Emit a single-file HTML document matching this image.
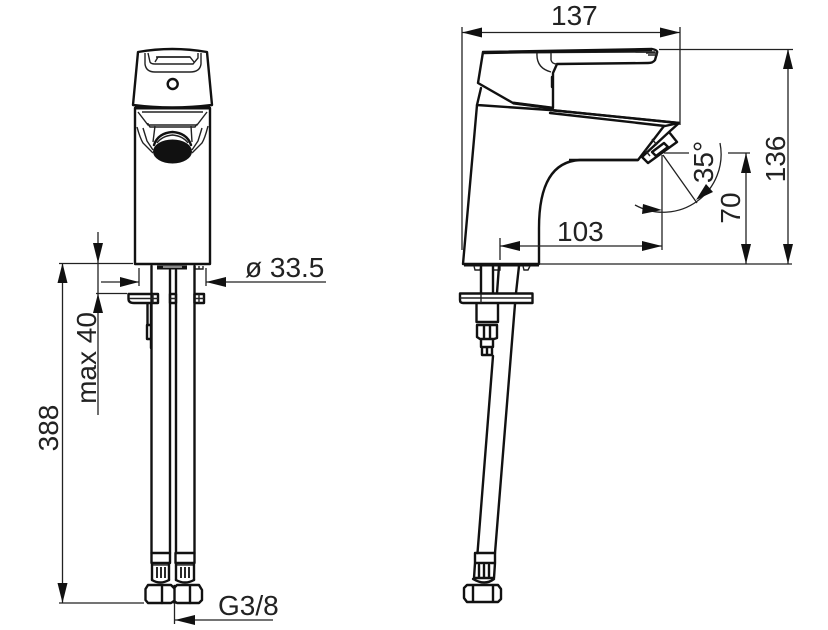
<!DOCTYPE html>
<html><head><meta charset="utf-8"><style>
html,body{margin:0;padding:0;background:#fff}
svg{display:block}
text{font-family:"Liberation Sans",Arial,sans-serif;font-size:28px;fill:#222}
.o{fill:none;stroke:#111;stroke-width:2.4;stroke-linejoin:round;stroke-linecap:round}
.t{fill:none;stroke:#222;stroke-width:1.4}
.d{fill:none;stroke:#222;stroke-width:1.3}
.a{fill:#111;stroke:none}
</style></head><body>
<svg width="828" height="630" viewBox="0 0 828 630" xmlns="http://www.w3.org/2000/svg">
<!-- LEFT VIEW -->
<path class="o" d="M138 52Q172 46 207 52L212 105Q172 110 133 105Z"/>
<path class="t" d="M145 53V64Q146 72 155 72H190Q200 72 201 64V53M148 53L150 62Q151 64 155 64H193L198 58V53M156 57H190"/>
<path class="t" d="M155 62L158 57H190L194 62"/>
<circle class="o" cx="172.700" cy="84" r="5"/>
<path d="M135 108H210" stroke="#111" stroke-width="3"/>
<path class="o" d="M135 108V264H210V108"/>
<path class="t" d="M138 112L148 125H197L207 112M148 125V123M142 112H203M148 124L150 127H195L197 124M137 127Q140 138 143 143L153 153M208 126Q205 138 202 143L192 153M155 126L153 142M191 126L192 142M143 128L147 141L153 150M202 128L198 141L192 150"/>
<path class="o" d="M154 145Q158 133 172.500 132Q187 133 191 145" />
<path class="t" d="M157 143Q162 136 172.500 135Q183 136 188 143"/>
<ellipse class="a" cx="172.500" cy="151.500" rx="19.500" ry="12"/>
<!-- left under-body -->
<path d="M157 267.500H187" stroke="#111" stroke-width="4"/>
<path d="M163 267H182" stroke="#fff" stroke-width="1"/>
<path class="t" d="M195 266V269H203V266M199 266V269"/>
<path class="o" d="M151.500 266V553M170 270V553M176 270V553M194.500 266V553"/>
<path class="o" d="M128.500 294H158V303H134Q128.500 303 128.500 299ZM170 294H176V303H170ZM194.500 294H204V303H194.500Z" fill="#fff"/>
<path class="t" d="M129 298.500H158M170 298.500H176M195 298.500H204M153 294V303M199 294V303"/>
<path class="o" d="M147.500 304V324M151 304V324M147 325H151V339H147ZM151 339V348"/>
<!-- left bottom connectors -->
<path class="o" d="M151.500 553H170V563H151.500ZM175.500 553H194.500V563H175.500Z"/>
<path class="o" d="M152 563V580M169 563V580M176 563V580M194 563V580"/>
<path class="o" d="M152 580Q160 585 169 580M176 580Q185 585 194 580"/>
<path d="M157 567V578M161 567V578M165 567V578M181 567V578M185 567V578M189 567V578" stroke="#111" stroke-width="1.800"/>
<path d="M153 565H168M177 565H193" stroke="#111" stroke-width="1.200"/>
<path class="o" d="M148 585H171L174 588L177 585H199L202 590V600L199 603H177L174 601L171 603H148L145.500 600V589Z"/>
<path class="o" d="M162 586V603M174.500 586V603M190 586V603"/>
<!-- left dims -->
<path class="d" d="M59 263.500H133M59 603H144M62.500 263V603"/>
<path class="a" d="M62.500 263L57.500 283H67.500ZM62.500 603L57.500 583H67.500Z"/>
<path class="d" d="M98 232V415M96 293.500H127M101 282H139M139 268V286M206 268V286M206 282H326"/>
<path class="a" d="M98 263L93 243H103ZM98 293.500L93 313H103ZM139 282L120 277V287ZM206 282L226 277V287Z"/>
<path class="d" d="M174.500 603V624M175 620H273"/>
<path class="a" d="M175 620L195 615V625Z"/>
<text x="245" y="277">ø 33.5</text>
<text x="218" y="615">G3/8</text>
<text transform="translate(58 428) rotate(-90)" text-anchor="middle">388</text>
<text transform="translate(96 358) rotate(-90)" text-anchor="middle">max 40</text>
<!-- RIGHT VIEW -->
<path class="o" d="M483 52L652 49Q658 50 657 53L655 60Q653 63 648 63L557 64L553 73V108M483 52L478 83L513 103L552 108"/>
<path class="t" d="M483 53L655 52M537 53Q536 68 551 72M551 53V60Q552 64 557 64M646 53H657V55H648"/>
<path class="o" d="M481 88L477 105M552 77V87" />
<path d="M483 53L652 50" stroke="#111" stroke-width="2.500" fill="none"/>
<path d="M513 103L552 108" stroke="#111" stroke-width="3" fill="none"/>
<path class="o" d="M477 105L550 110L679 123L665 126L550 113M477 105L463 264H539V228Q539 162 580 160H638L664 126"/>
<path d="M550 110L679 123" stroke="#111" stroke-width="2.500" fill="none"/>
<path d="M569 160H638" stroke="#111" stroke-width="2.500" fill="none"/>
<path class="o" d="M679 123L669 132L677 142L648 163L642 157L669 132"/>
<path class="t" d="M652 139L657 145M645 150L650 156"/>
<path class="o" d="M652 152L664 143L668 147L656 156Z"/>
<!-- right under -->
<path d="M464 265.500H539" stroke="#111" stroke-width="2"/>
<path class="t" d="M474 266L475 270H480L481 266M493 266V270H500V266M523 266L524 270H528L530 266"/>
<path class="o" d="M481 266V293M493 266V293M499 266L497 293M519 266L516 293"/>
<path class="o" d="M460 293.500H532.500V303H463Q460 303 460 300Z" fill="#fff"/>
<path class="t" d="M460 298H532.500M481 294V303"/>
<path class="o" d="M476.500 304V322H498V304"/>
<path class="o" d="M515 304L495 553M493 356L477.500 553"/>
<path class="o" d="M477 325H497V338L494 339H480L477 337ZM484 326V338M490 326V338M481 340V347H493V340M482 348V355H492V348M487 348V355"/>
<path class="o" d="M475 553H495V563H475ZM475 563L474 578H494L495 563M479 565V577M484 565V577M489 565V577M473 579Q485 586 494 579"/>
<path class="o" d="M467 585H498L501 589V599L498 602H467L464 598V588ZM473 585V602M493 585V602"/>
<!-- right dims -->
<path class="d" d="M462 27V250M680 27V125M462 32.500H680"/>
<path class="a" d="M462 32.500L482 27.500V37.500ZM680 32.500L660 27.500V37.500Z"/>
<path class="d" d="M659 49.500H793M788 49V264M539 264H792M746 153V264M664 153H689M728 153H750M500 238V260M500 246H662M662 155V250"/>
<path class="a" d="M788 264L783 244H793ZM746 153L741 173H751ZM746 264L741 244H751ZM500 246L520 241V251ZM662 246L642 241V251ZM788 49L783 69H793Z"/>
<path class="d" d="M720 143A58 58 0 0 1 635 205M663 155L697 203"/>
<path class="a" d="M696 200L706 184L713 192ZM662 210L643 204L642 214Z"/>
<text x="551" y="25">137</text>
<text x="557" y="241">103</text>
<text transform="translate(713 162) rotate(-90)" text-anchor="middle">35°</text>
<text transform="translate(740 208) rotate(-90)" text-anchor="middle">70</text>
<text transform="translate(785 159) rotate(-90)" text-anchor="middle">136</text>
</svg>
</body></html>
